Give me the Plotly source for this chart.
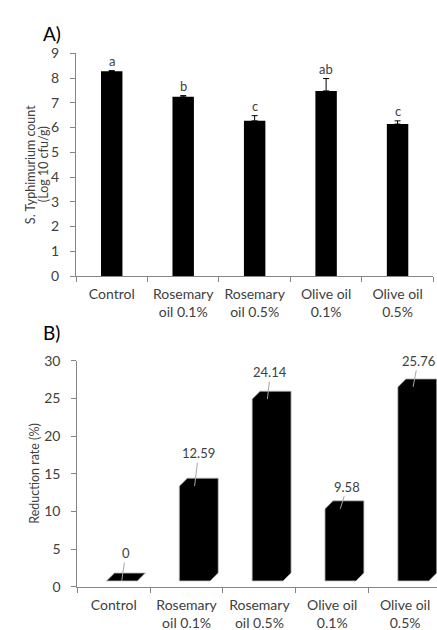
import plotly.graph_objects as go

categories = ["Control", "Rosemary<br>oil 0.1%", "Rosemary<br>oil 0.5%", "Olive oil<br>0.1%", "Olive oil<br>0.5%"]
counts = [8.27, 7.24, 6.27, 7.48, 6.14]
count_err = [0.03, 0.05, 0.21, 0.50, 0.13]
letters = ["a", "b", "c", "ab", "c"]
reduction = [0, 12.59, 24.14, 9.58, 25.76]
reduction_labels = ["0", "12.59", "24.14", "9.58", "25.76"]
title_a = ["S. Typhimurium count", "(Log 10 cfu/g)"]
title_b = "Reduction rate (%)"

FONT = "Lato"
TXT = "#404040"
AX = "#868686"
FS = 14
FSL = 13
FST = 12.5

pos = list(range(len(categories)))
fig = go.Figure()

# Panel A: bars with error bars
fig.add_trace(go.Bar(
    x=pos, y=counts, width=0.30, marker=dict(color="black", line=dict(width=0)),
    error_y=dict(type="data", array=count_err, symmetric=False, arrayminus=[0]*5,
                 color="black", thickness=1, width=3),
    xaxis="x", yaxis="y", hoverinfo="skip"))

# Panel B: pseudo-3D columns (front face + top + side silhouette)
lift = 0.76      # floor offset (data units)
depth_y = 1.06   # depth in y (data units)
depth_x = 0.11   # depth in x (category units)
left, right = -0.10, 0.325
xs, ys = [], []
for i, v in zip(pos, reduction):
    L, R = i + left, i + right
    y0, yt = lift, v + lift
    xs += [L, L, L + depth_x, R + depth_x, R + depth_x, R, L, None]
    ys += [y0, yt, yt + depth_y, yt + depth_y, y0 + depth_y, y0, y0, None]
fig.add_trace(go.Scatter(x=xs, y=ys, mode="lines", fill="toself", fillcolor="black",
                         line=dict(color="#bfbfbf", width=0.8), xaxis="x2", yaxis="y2",
                         hoverinfo="skip"))

annotations = []
for i, (c, e, l) in enumerate(zip(counts, count_err, letters)):
    annotations.append(dict(x=i, y=c + e, xref="x", yref="y", text=l, showarrow=False,
                            yanchor="bottom", yshift=0, font=dict(family=FONT, size=FSL, color=TXT)))

offs = [(4, -28), (4, -33), (3, -27), (7, -22), (5, -26)]
for i, (v, lab, (ax, ay)) in enumerate(zip(reduction, reduction_labels, offs)):
    annotations.append(dict(x=i + 0.11, y=v + lift, xref="x2", yref="y2", text=lab,
                            showarrow=True, arrowhead=0, arrowwidth=1, arrowcolor="#a6a6a6",
                            standoff=0, ax=ax, ay=ay, font=dict(family=FONT, size=FSL, color=TXT)))

# panel letters
annotations.append(dict(x=41 / 437, y=1 - 20 / 630, xref="paper", yref="paper", text="A)",
                        showarrow=False, xanchor="left", font=dict(family=FONT, size=19, color="black")))
annotations.append(dict(x=41 / 437, y=1 - 332 / 630, xref="paper", yref="paper", text="B)",
                        showarrow=False, xanchor="left", font=dict(family=FONT, size=19, color="black")))

# y-axis titles (rotated)
yc_a = 1 - (276 + 53.3) / 2 / 630
for line, xp in zip(title_a, [30.5, 43.5]):
    annotations.append(dict(x=xp / 437, y=yc_a, xref="paper", yref="paper", text=line,
                            textangle=-90, showarrow=False, xanchor="center", yanchor="middle",
                            font=dict(family=FONT, size=FST, color=TXT)))
annotations.append(dict(x=35 / 437, y=1 - (586.7 + 360.7) / 2 / 630, xref="paper", yref="paper",
                        text=title_b, textangle=-90, showarrow=False, xanchor="center",
                        yanchor="middle", font=dict(family=FONT, size=FST, color=TXT)))

tickfont = dict(family=FONT, size=FS, color=TXT)
xcommon = dict(tickvals=pos, ticktext=categories, ticks="", showline=True, linecolor=AX,
               linewidth=1, showgrid=False, zeroline=False, tickfont=tickfont, automargin=False,
               ticklabelstandoff=5,
               minor=dict(tickvals=[-0.5, 0.5, 1.5, 2.5, 3.5, 4.5], ticks="outside",
                          ticklen=5, tickcolor=AX, showgrid=False))
ycommon = dict(showline=True, linecolor=AX, linewidth=1, ticks="outside", ticklen=5,
               tickcolor=AX, showgrid=False, zeroline=False, tickfont=tickfont, automargin=False,
               ticklabelstandoff=8)

fig.update_layout(
    template="none",
    width=437, height=630, margin=dict(l=0, r=0, t=0, b=0, autoexpand=False),
    paper_bgcolor="white", plot_bgcolor="white", showlegend=False,
    font=dict(family=FONT, color=TXT),
    xaxis=dict(domain=[76 / 437, 433.3 / 437], range=[-0.5, 4.5], anchor="y", **xcommon),
    yaxis=dict(domain=[1 - 276 / 630, 1 - 53.3 / 630], range=[0, 9], dtick=1, anchor="x",
               **ycommon),
    xaxis2=dict(domain=[77.3 / 437, 1.0], range=[-0.5, -0.5 + (437 - 77.3) / 72.84],
                anchor="y2", **xcommon),
    yaxis2=dict(domain=[1 - 586.7 / 630, 1 - 360.7 / 630], range=[0, 30], dtick=5, anchor="x2",
                **ycommon),
    annotations=annotations,
)

fig.write_html("out.html", config={"displayModeBar": False},
               post_script="document.body.style.margin='0';")
